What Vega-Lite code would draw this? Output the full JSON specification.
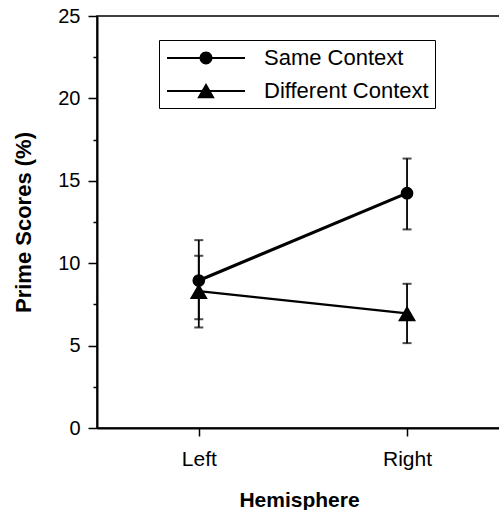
{
  "$schema": "https://vega.github.io/schema/vega-lite/v6.json",
  "autosize": "none",
  "padding": {"left": 97, "top": 16, "right": 0, "bottom": 82},
  "width": 404,
  "height": 412,
  "config": {
    "font": "Liberation Sans",
    "view": {"stroke": "black", "strokeWidth": 1.5},
    "axis": {"domainColor": "black", "domainWidth": 2, "tickColor": "black", "tickWidth": 1.5, "labelColor": "black", "titleColor": "black", "grid": false, "labelFont": "Liberation Sans", "titleFont": "Liberation Sans"}
  },
  "data": {
    "values": [
      {"hemisphere": "Left", "condition": "Same Context", "score": 8.95, "lo": 6.1, "hi": 11.4},
      {"hemisphere": "Right", "condition": "Same Context", "score": 14.25, "lo": 12.05, "hi": 16.35},
      {"hemisphere": "Left", "condition": "Different Context", "score": 8.3, "lo": 6.6, "hi": 10.45},
      {"hemisphere": "Right", "condition": "Different Context", "score": 6.95, "lo": 5.15, "hi": 8.75}
    ]
  },
  "encoding": {
    "x": {
      "field": "hemisphere", "type": "nominal", "sort": ["Left", "Right"],
      "scale": {"type": "point", "padding": 0.47, "align": 0.52},
      "axis": {"title": "Hemisphere", "labelAngle": 0, "labelFontSize": 21, "titleFontSize": 21, "titleFontWeight": "bold", "tickSize": 8, "labelPadding": 12, "titlePadding": 20}
    }
  },
  "resolve": {"scale": {"shape": "independent"}},
  "layer": [
    {
      "mark": {"type": "rule", "color": "black", "strokeWidth": 1.8},
      "encoding": {
        "y": {
          "field": "lo", "type": "quantitative",
          "scale": {"domain": [0, 25], "nice": false},
          "axis": {
            "title": "Prime Scores (%)", "titleFontSize": 22, "titleFontWeight": "bold", "titlePadding": 22,
            "values": [0, 2.5, 5, 7.5, 10, 12.5, 15, 17.5, 20, 22.5, 25],
            "labelExpr": "datum.value % 5 === 0 ? datum.label : ''",
            "tickSize": {"condition": {"test": "datum.value % 5 === 0", "value": 9}, "value": 4},
            "labelFontSize": 20, "labelPadding": 8
          }
        },
        "y2": {"field": "hi"}
      }
    },
    {
      "mark": {"type": "tick", "color": "black", "size": 9, "thickness": 2},
      "encoding": {"y": {"field": "lo", "type": "quantitative"}}
    },
    {
      "mark": {"type": "tick", "color": "black", "size": 9, "thickness": 2},
      "encoding": {"y": {"field": "hi", "type": "quantitative"}}
    },
    {
      "transform": [{"filter": "datum.condition === 'Same Context'"}],
      "mark": {"type": "line", "color": "black", "strokeWidth": 3},
      "encoding": {"y": {"field": "score", "type": "quantitative"}}
    },
    {
      "transform": [{"filter": "datum.condition === 'Different Context'"}],
      "mark": {"type": "line", "color": "black", "strokeWidth": 2.3},
      "encoding": {"y": {"field": "score", "type": "quantitative"}}
    },
    {
      "mark": {"type": "point", "filled": true, "color": "black", "opacity": 1, "strokeWidth": 0},
      "encoding": {
        "y": {"field": "score", "type": "quantitative"},
        "shape": {
          "field": "condition", "type": "nominal",
          "scale": {"domain": ["Same Context", "Different Context"], "range": ["circle", "triangle-up"]},
          "legend": null
        },
        "size": {"condition": {"test": "datum.condition === 'Same Context'", "value": 160}, "value": 324}
      }
    },
    {
      "transform": [{"filter": "false"}],
      "mark": {"type": "point", "filled": true, "color": "black", "strokeWidth": 0, "opacity": 1, "size": 576},
      "encoding": {
        "y": {"field": "score", "type": "quantitative"},
        "shape": {
          "field": "condition", "type": "nominal",
          "scale": {
            "domain": ["Same Context", "Different Context"],
            "range": [
              "M-3.25,-0.08L-0.5,-0.08L-0.5,0.08L-3.25,0.08ZM0.5,-0.08L3.25,-0.08L3.25,0.08L0.5,0.08ZM0.54,0A0.54,0.54,0,1,1,-0.54,0A0.54,0.54,0,1,1,0.54,0Z",
              "M-3.25,-0.08L-0.34,-0.08L-0.34,0.08L-3.25,0.08ZM0.34,-0.08L3.25,-0.08L3.25,0.08L0.34,0.08ZM0,-0.66L0.73,0.6L-0.73,0.6Z"
            ]
          },
          "legend": {
            "title": null, "orient": "none", "legendX": 62, "legendY": 24,
            "strokeColor": "black", "padding": 6, "labelFontSize": 22, "labelColor": "black", "labelLimit": 400,
            "symbolOffset": 29, "labelOffset": 46,
            "symbolSize": 576, "symbolFillColor": "black", "symbolStrokeWidth": 0,
            "rowPadding": 10
          }
        }
      }
    }
  ]
}
